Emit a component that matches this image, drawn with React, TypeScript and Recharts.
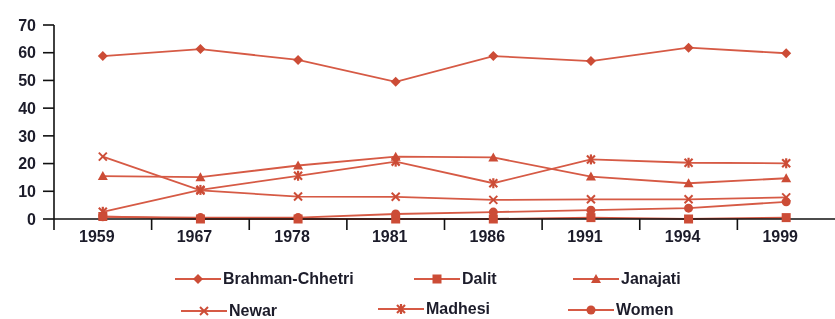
import React from 'react'
import { Line, LineChart, XAxis, YAxis } from 'recharts'

const years = ['1959', '1967', '1978', '1981', '1986', '1991', '1994', '1999']
const brahmanChhetri = [58.8, 61.3, 57.4, 49.5, 58.8, 57, 61.8, 59.8]
const dalit = [0.9, 0, 0, 0, 0, 0.5, 0, 0.5]
const janajati = [15.5, 15.1, 19.3, 22.5, 22.2, 15.3, 12.9, 14.7]
const newar = [22.5, 10.3, 8.1, 8, 6.9, 7.1, 7.1, 7.8]
const madhesi = [2.6, 10.5, 15.6, 20.7, 12.9, 21.5, 20.3, 20.1]
const women = [0.8, 0.5, 0.5, 1.8, 2.5, 3.2, 3.9, 6.2]
const yTicks = [0, 10, 20, 30, 40, 50, 60, 70]

const LINE = '#d65a45'
const MARK = '#cc4c36'
const TEXT = '#1c1c2a'
const FONT = '"Liberation Sans", Arial, sans-serif'

const W = 835
const H = 319
const AXIS_W = 54
const BAND = (W - AXIS_W) / years.length

type Shape = 'diamond' | 'square' | 'triangle' | 'cross' | 'star' | 'circle'

const series: { key: string; name: string; shape: Shape }[] = [
  { key: 'brahmanChhetri', name: 'Brahman-Chhetri', shape: 'diamond' },
  { key: 'dalit', name: 'Dalit', shape: 'square' },
  { key: 'janajati', name: 'Janajati', shape: 'triangle' },
  { key: 'newar', name: 'Newar', shape: 'cross' },
  { key: 'madhesi', name: 'Madhesi', shape: 'star' },
  { key: 'women', name: 'Women', shape: 'circle' },
]

const data = years.map((year, i) => ({
  year,
  brahmanChhetri: brahmanChhetri[i],
  dalit: dalit[i],
  janajati: janajati[i],
  newar: newar[i],
  madhesi: madhesi[i],
  women: women[i],
}))

// legend spots, two rows like the original
const legendSpots: Record<string, { left: number; top: number }> = {
  brahmanChhetri: { left: 175, top: 279 },
  dalit: { left: 414, top: 279 },
  janajati: { left: 573, top: 279 },
  newar: { left: 181, top: 311 },
  madhesi: { left: 378, top: 309 },
  women: { left: 568, top: 310 },
}

const Marker = ({ shape, cx, cy }: { shape: Shape; cx: number; cy: number }) => {
  if (cx == null || cy == null) return null
  switch (shape) {
    case 'diamond':
      return <polygon points={`${cx},${cy - 5} ${cx + 5},${cy} ${cx},${cy + 5} ${cx - 5},${cy}`} fill={MARK} />
    case 'square':
      return <rect x={cx - 4.5} y={cy - 4.5} width={9} height={9} fill={MARK} />
    case 'triangle':
      return <polygon points={`${cx},${cy - 5} ${cx + 5},${cy + 4} ${cx - 5},${cy + 4}`} fill={MARK} />
    case 'cross':
      return (
        <g stroke={MARK} strokeWidth={2}>
          <line x1={cx - 4} y1={cy - 4} x2={cx + 4} y2={cy + 4} />
          <line x1={cx - 4} y1={cy + 4} x2={cx + 4} y2={cy - 4} />
        </g>
      )
    case 'star':
      return (
        <g stroke={MARK} strokeWidth={2.2}>
          <line x1={cx - 4} y1={cy - 4} x2={cx + 4} y2={cy + 4} />
          <line x1={cx - 4} y1={cy + 4} x2={cx + 4} y2={cy - 4} />
          <line x1={cx} y1={cy - 5} x2={cx} y2={cy + 5} />
        </g>
      )
    default:
      return <circle cx={cx} cy={cy} r={4.5} fill={MARK} />
  }
}

const YearTick = (props: any) => {
  const { x, y, payload } = props
  const bx = x - BAND / 2
  return (
    <g>
      <line x1={bx} y1={y} x2={bx} y2={y + 11} stroke="#111" strokeWidth={1.6} />
      <text x={x - 6} y={y + 23} textAnchor="middle" fill={TEXT} fontSize={16} fontWeight="bold" fontFamily={FONT}>
        {payload.value}
      </text>
    </g>
  )
}

const App = () => {
  return (
    <div style={{ position: 'fixed', left: 0, top: 0, width: W, height: H, overflow: 'hidden' }}>
      <LineChart width={W} height={H} data={data} margin={{ top: 25, right: 0, bottom: 0, left: 0 }}>
        <XAxis
          dataKey="year"
          height={100}
          padding={{ left: BAND / 2, right: BAND / 2 }}
          tickSize={0}
          tickMargin={0}
          tickLine={false}
          interval={0}
          axisLine={{ stroke: '#111', strokeWidth: 1.6 }}
          tick={<YearTick />}
        />
        <YAxis
          width={AXIS_W}
          domain={[0, 70]}
          ticks={yTicks}
          interval={0}
          tickSize={11}
          tickMargin={7}
          axisLine={{ stroke: '#111', strokeWidth: 1.6 }}
          tickLine={{ stroke: '#111', strokeWidth: 1.6 }}
          tick={{ fill: TEXT, fontSize: 16, fontWeight: 'bold', fontFamily: FONT }}
        />
        {series.map((s) => (
          <Line
            key={s.key}
            dataKey={s.key}
            name={s.name}
            stroke={LINE}
            strokeWidth={1.8}
            isAnimationActive={false}
            dot={(p: any) => <Marker key={`${s.key}-${p.index}`} shape={s.shape} cx={p.cx} cy={p.cy} />}
            activeDot={false}
          />
        ))}
      </LineChart>
      {series.map((s) => {
        const spot = legendSpots[s.key]
        return (
          <div
            key={s.key}
            style={{
              position: 'absolute',
              left: spot.left,
              top: spot.top - 10,
              height: 20,
              display: 'flex',
              alignItems: 'center',
              fontFamily: FONT,
              fontSize: 16,
              fontWeight: 'bold',
              color: TEXT,
              whiteSpace: 'nowrap',
            }}
          >
            <svg width={46} height={14} style={{ marginRight: 2 }}>
              <line x1={0} y1={7} x2={46} y2={7} stroke={LINE} strokeWidth={1.8} />
              <Marker shape={s.shape} cx={23} cy={7} />
            </svg>
            {s.name}
          </div>
        )
      })}
    </div>
  )
}

export default App
